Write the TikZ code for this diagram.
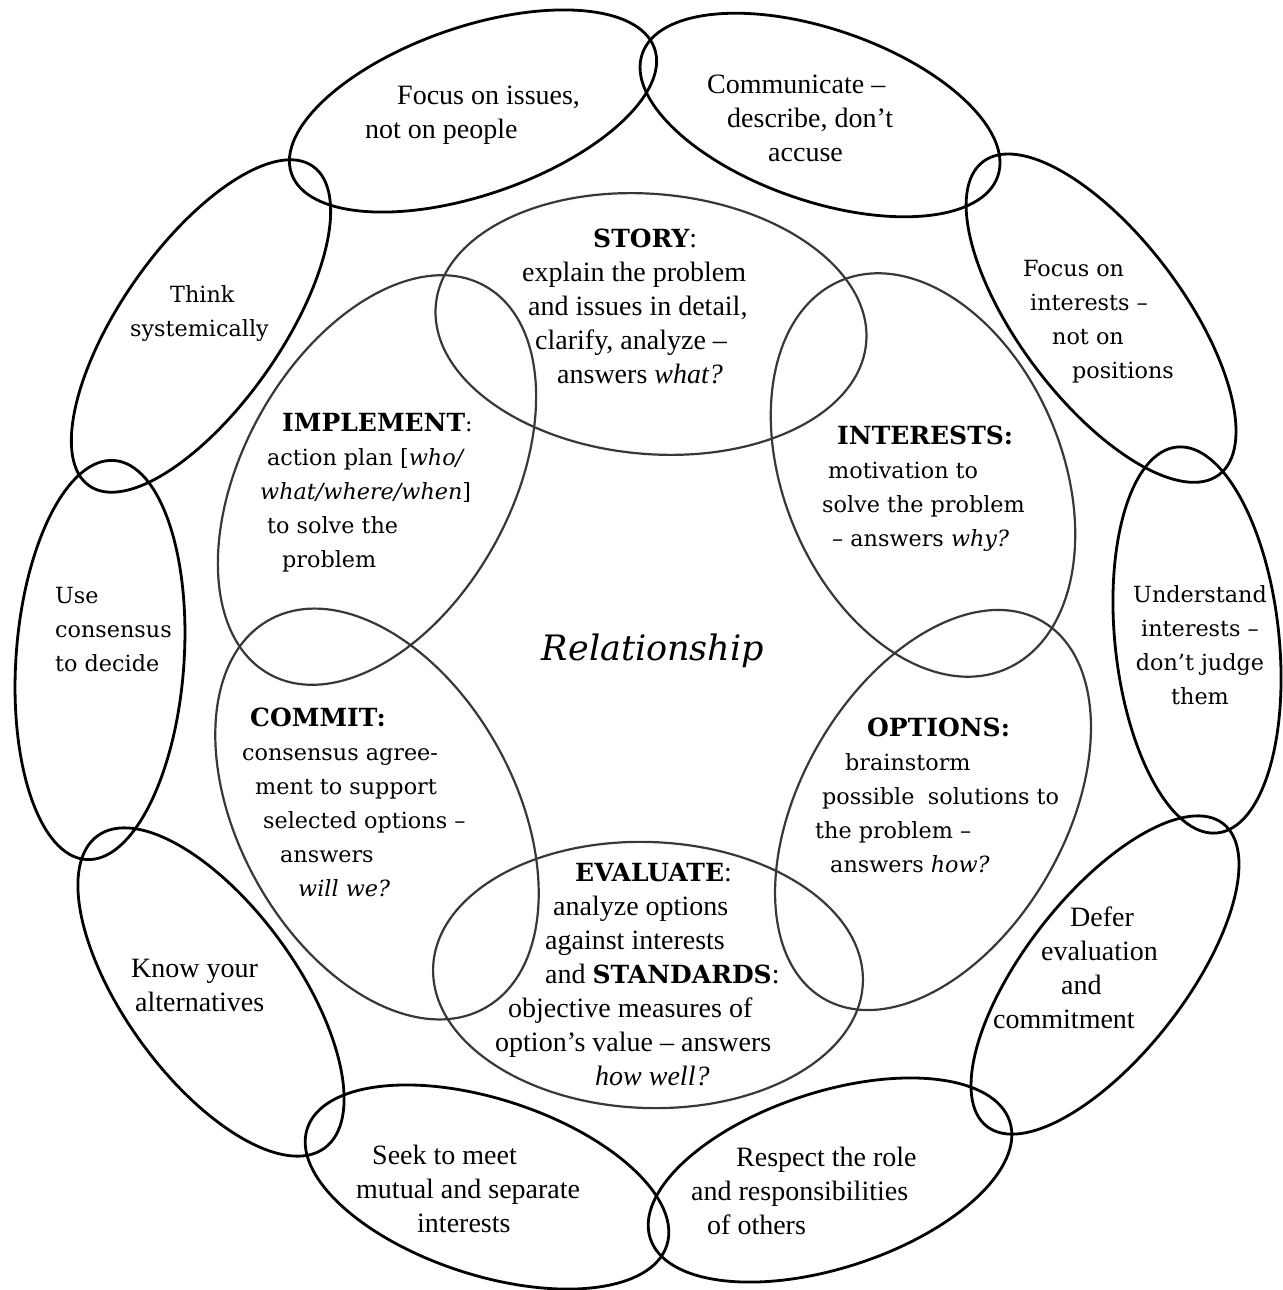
\documentclass[tikz,border=0pt]{standalone}
\usepackage{fontspec}
\setmainfont{Liberation Serif}
\newfontfamily\schfont{DejaVu Serif}
\newcommand\myhd[1]{{\schfont\bfseries\fontsize{25}{34}\selectfont #1}}
\tikzset{
  outer/.style={draw=black, line width=2.8pt},
  inner/.style={draw=black!78, line width=2.2pt},
  tim/.style={font=\fontsize{28}{34}\selectfont, align=left, inner sep=0pt, anchor=west},
  sch/.style={font=\schfont\fontsize{22.3}{34}\selectfont, align=left, inner sep=0pt, anchor=west},
  schc/.style={font=\schfont\fontsize{22.3}{34}\selectfont, align=center, inner sep=0pt, anchor=center},
  rel/.style={font=\schfont\itshape\fontsize{35}{40}\selectfont, inner sep=0pt, anchor=center}
}
\begin{document}
\begin{tikzpicture}[x=1pt, y=-1pt]
\useasboundingbox[fill=white] (0,0) rectangle (1282,1290);

% ellipse centres
\coordinate (c1) at (473,111);
\coordinate (c2) at (820,115);
\coordinate (c3) at (1101,318);
\coordinate (c4) at (1197,640);
\coordinate (c5) at (1105,975);
\coordinate (c6) at (830,1180);
\coordinate (c7) at (487,1187);
\coordinate (c8) at (211,992);
\coordinate (c9) at (100,660);
\coordinate (c10) at (201,326);
\coordinate (cs) at (651,324);
\coordinate (ci) at (923,475);
\coordinate (co) at (933,810);
\coordinate (ce) at (648,975);
\coordinate (cc) at (377,814);
\coordinate (cm) at (377,480);

% inner ring
\draw[inner, rotate around={-5:(cs)}] (cs) ellipse [x radius=216pt, y radius=130pt];
\draw[inner, rotate around={-67:(ci)}] (ci) ellipse [x radius=211pt, y radius=139pt];
\draw[inner, rotate around={60:(co)}] (co) ellipse [x radius=218pt, y radius=132pt];
\draw[inner, rotate around={-2:(ce)}] (ce) ellipse [x radius=215pt, y radius=133pt];
\draw[inner, rotate around={-61:(cc)}] (cc) ellipse [x radius=222pt, y radius=138pt];
\draw[inner, rotate around={61:(cm)}] (cm) ellipse [x radius=222pt, y radius=134pt];

% outer ring
\draw[outer, rotate around={19:(c1)}] (c1) ellipse [x radius=192pt, y radius=84pt];
\draw[outer, rotate around={-19:(c2)}] (c2) ellipse [x radius=188pt, y radius=86pt];
\draw[outer, rotate around={-53:(c3)}] (c3) ellipse [x radius=196pt, y radius=82pt];
\draw[outer, rotate around={6:(c4)}] (c4) ellipse [x radius=82pt, y radius=194pt];
\draw[outer, rotate around={52:(c5)}] (c5) ellipse [x radius=192pt, y radius=80pt];
\draw[outer, rotate around={18:(c6)}] (c6) ellipse [x radius=189pt, y radius=88pt];
\draw[outer, rotate around={-18:(c7)}] (c7) ellipse [x radius=189pt, y radius=88pt];
\draw[outer, rotate around={-54:(c8)}] (c8) ellipse [x radius=193pt, y radius=86pt];
\draw[outer, rotate around={-4:(c9)}] (c9) ellipse [x radius=84pt, y radius=200pt];
\draw[outer, rotate around={55:(c10)}] (c10) ellipse [x radius=195pt, y radius=80pt];

% outer texts
\node[tim] (t1) at (365,115) {\hspace*{32pt}Focus on issues,\\not on people};
\node[tim] (t2) at (707,118.5) {Communicate –\\\hspace*{20pt}describe, don’t\\\hspace*{61pt}accuse};
\node[sch] (t3) at (1023,322) {Focus on\\\hspace*{7pt}interests –\\\hspace*{29pt}not on\\\hspace*{49pt}positions};
\node[schc] (t4) at (1200,645.5) {Understand\\interests –\\don’t judge\\them};
\node[tim] (t5) at (993,967.5) {\hspace*{77pt}Defer\\\hspace*{48pt}evaluation\\\hspace*{68pt}and\\commitment};
\node[tim] (t6) at (691,1191) {\hspace*{45pt}Respect the role\\and responsibilities\\\hspace*{16pt}of others};
\node[tim] (t7) at (356,1189) {\hspace*{16pt}Seek to meet\\mutual and separate\\\hspace*{61pt}interests};
\node[tim] (t8) at (131,985) {Know your\\\hspace*{4pt}alternatives};
\node[sch] (t9) at (55,629.5) {Use\\consensus\\to decide};
\node[sch] (t10) at (130,314) {\hspace*{40pt}Think\\systemically};

% inner texts
\node[tim] (story) at (522,306) {\hspace*{71pt}\myhd{STORY}:\\explain the problem\\\hspace*{6pt}and issues in detail,\\\hspace*{13pt}clarify, analyze –\\\hspace*{35pt}answers \textit{what?}};
\node[sch] (impl) at (260,492.5) {\hspace*{22pt}\myhd{IMPLEMENT}:\\\hspace*{7pt}action plan [\textit{who/}\\\textit{what/where/when}]\\\hspace*{7pt}to solve the\\\hspace*{22pt}problem};
\node[sch] (inter) at (822,488.5) {\hspace*{15pt}\myhd{INTERESTS:}\\\hspace*{6pt}motivation to\\solve the problem\\\hspace*{10pt}– answers \textit{why?}};
\node[sch] (opt) at (815,795.5) {\hspace*{52pt}\myhd{OPTIONS:}\\\hspace*{30pt}brainstorm\\\hspace*{7pt}possible\hspace{0.6em}solutions to\\the problem –\\\hspace*{15pt}answers \textit{how?}};
\node[sch] (commit) at (242,802) {\hspace*{8pt}\myhd{COMMIT:}\\consensus agree-\\\hspace*{13pt}ment to support\\\hspace*{21pt}selected options –\\\hspace*{38pt}answers\\\hspace*{56pt}\textit{will we?}};
\node[tim] (eval) at (495,975) {\hspace*{80pt}\myhd{EVALUATE}:\\\hspace*{58pt}analyze options\\\hspace*{50pt}against interests\\\hspace*{50pt}and \myhd{STANDARDS}:\\\hspace*{13pt}objective measures of\\option’s value – answers\\\hspace*{100pt}\textit{how well?}};

\node[rel] (relation) at (653,651) {Relationship};
\end{tikzpicture}
\end{document}
